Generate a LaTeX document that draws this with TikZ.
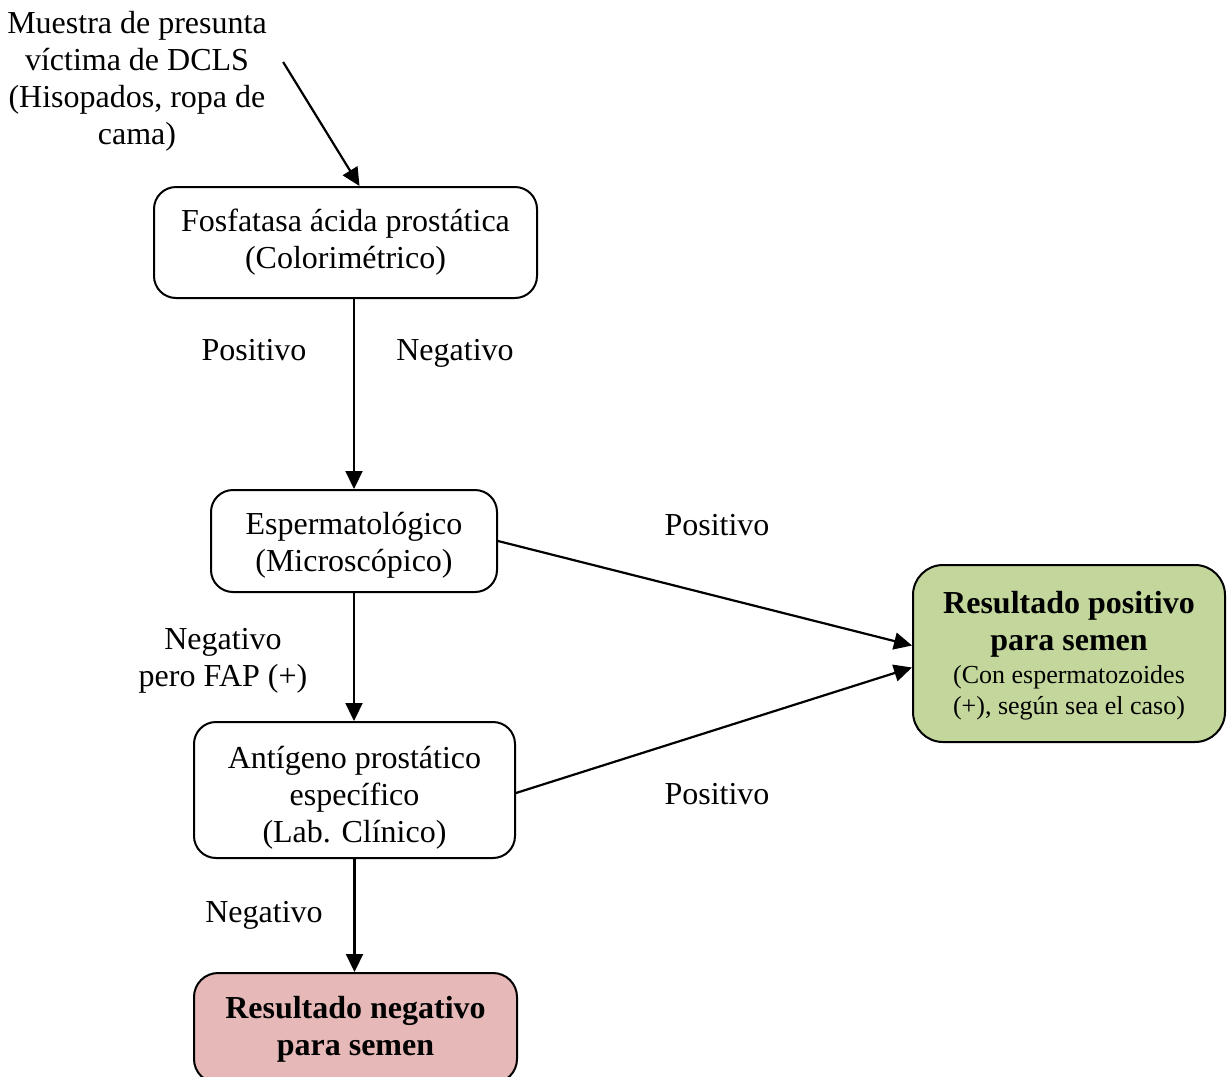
\documentclass[tikz,border=0pt]{standalone}
\usepackage{fontspec}
\setmainfont{Liberation Serif}
\usepackage{tikz}
\usetikzlibrary{arrows.meta, positioning, calc}
\usepackage{xcolor}
\definecolor{ResultGreen}{HTML}{C3D69B}
\definecolor{ResultRose}{HTML}{E6B9B8}
\definecolor{LineBlack}{HTML}{000000}
\tikzset{
    % Node styles - rounded boxes
    testbox/.style={
        rectangle,
        rounded corners=11pt,
        draw=LineBlack,
        fill=white,
        line width=1pt,
        align=center,
        font=\fontsize{16}{18.5}\selectfont
    },
    posbox/.style={
        testbox,
        rounded corners=15pt,
        fill=ResultGreen
    },
    negbox/.style={
        testbox,
        rounded corners=12pt,
        fill=ResultRose
    },
    % Text styles
    plaintext/.style={
        align=center,
        inner sep=0pt,
        font=\fontsize{16}{18.5}\selectfont
    },
    edgelabel/.style={
        plaintext,
        text height=15pt,
        text depth=3.5pt
    },
    % Arrow styles
    myarrow/.style={
        -{Triangle[length=9pt,width=8.5pt]},
        line width=1.1pt,
        LineBlack
    }
}

\begin{document}
\begin{tikzpicture}[x=0.5pt, y=-0.5pt]
    \useasboundingbox (0,0) rectangle (1228,1077);

    % Boxes
    \node[plaintext] (sample) at (137,81) {Muestra de presunta\\v\'ictima de DCLS\\(Hisopados, ropa de\\cama)};
    \node[testbox, minimum width=191.5pt, minimum height=55.5pt] (fap) at (345.5,242.5) {Fosfatasa \'acida prost\'atica\\(Colorim\'etrico)};
    \node[testbox, minimum width=143pt, minimum height=51pt] (sperm) at (354,541) {\rule{0pt}{15pt}Espermatol\'ogico\\(Microsc\'opico)};
    \node[testbox, minimum width=160.5pt, minimum height=68pt] (psa) at (354.5,790) {\rule{0pt}{19pt}Ant\'igeno prost\'atico\\espec\'ifico\\(Lab. Cl\'inico)};
    \node[posbox, minimum width=156pt, minimum height=88.5pt] (resultpos) at (1069,653.5) {{\bfseries\rule{0pt}{13.5pt}Resultado positivo}\\{\bfseries para semen}\\[-2pt]{\fontsize{13}{15.5}\selectfont (Con espermatozoides}\\[-3pt]{\fontsize{13}{15.5}\selectfont (+), seg\'un sea el caso)}};
    \node[negbox, minimum width=161.5pt, minimum height=55pt] (resultneg) at (355.5,1028) {\bfseries\rule{0pt}{12.5pt}Resultado negativo\\\bfseries para semen};

    % Labels
    \node[edgelabel] (fappos) at (254,349) {Positivo};
    \node[edgelabel] (fapneg) at (455,349) {Negativo};
    \node[edgelabel] (spermpos) at (717,524) {Positivo};
    \node[plaintext] (spermneg) at (223,661) {Negativo\\pero FAP (+)};
    \node[edgelabel] (psapos) at (717,793) {Positivo};
    \node[edgelabel] (psaneg) at (264,911) {Negativo};

    % Arrows
    \draw[myarrow] ($(sample.east)+(16,-19)$) -- ([xshift=7pt]fap.north);
    \draw[myarrow] (sperm.north |- fap.south) -- (sperm.north);
    \draw[myarrow] (sperm.south) -- (psa.north -| sperm.south);
    \draw[myarrow] (psa.south) -- (resultneg.north -| psa.south);
    \draw[myarrow] (sperm.east) -- ([yshift=4pt]resultpos.west);
    \draw[myarrow] ([yshift=-1.5pt]psa.east) -- ([yshift=-7pt]resultpos.west);
\end{tikzpicture}
\end{document}
